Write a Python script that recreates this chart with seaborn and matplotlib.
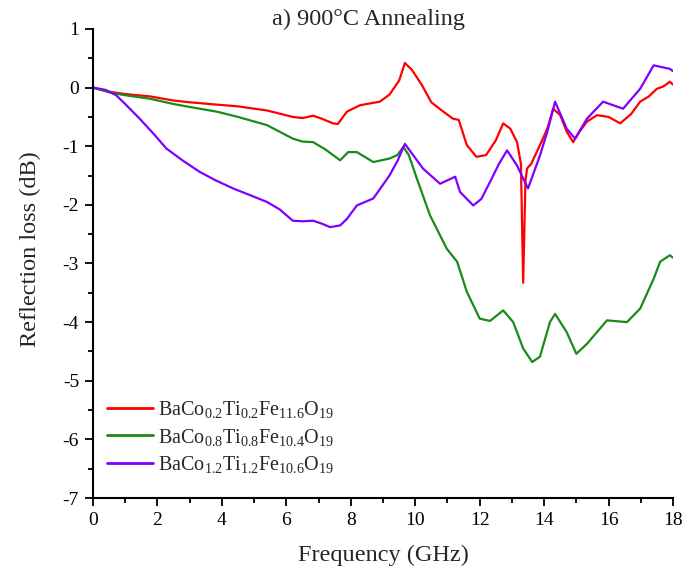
import numpy as np
import pandas as pd
import matplotlib
matplotlib.use("Agg")
import matplotlib.pyplot as plt
import seaborn as sns
from matplotlib.ticker import MultipleLocator

# ---- data ----
labels = [r"BaCo$_{0.2}$Ti$_{0.2}$Fe$_{11.6}$O$_{19}$",
          r"BaCo$_{0.8}$Ti$_{0.8}$Fe$_{10.4}$O$_{19}$",
          r"BaCo$_{1.2}$Ti$_{1.2}$Fe$_{10.6}$O$_{19}$"]
colors = ["#ff0000", "#1a8a1a", "#8000ff"]

red_x = [0, 0.5, 1.0, 1.77, 2.5, 3.0, 3.84, 4.5, 5.4, 6.2, 6.5, 6.83, 7.1, 7.45, 7.6,
         7.88, 8.29, 8.9, 9.2, 9.5, 9.68, 9.9, 10.2, 10.5, 10.8, 11.17, 11.35, 11.6, 11.9,
         12.2, 12.5, 12.73, 12.95, 13.16, 13.28, 13.35, 13.42, 13.47, 13.6, 13.87, 14.1,
         14.28, 14.5, 14.7, 14.9, 15.1, 15.33, 15.64, 16.0, 16.36, 16.7, 16.98, 17.25, 17.5,
         17.7, 17.9, 18.0]
red_y = [0, -0.07, -0.11, -0.15, -0.22, -0.25, -0.29, -0.32, -0.39, -0.5, -0.52, -0.48,
         -0.53, -0.61, -0.62, -0.41, -0.3, -0.24, -0.12, 0.12, 0.42, 0.3, 0.05, -0.25,
         -0.38, -0.53, -0.55, -0.98, -1.18, -1.15, -0.9, -0.61, -0.7, -0.93, -1.3, -3.33,
         -1.6, -1.38, -1.3, -0.98, -0.7, -0.36, -0.47, -0.75, -0.93, -0.75, -0.58, -0.47,
         -0.5, -0.61, -0.45, -0.24, -0.15, -0.02, 0.02, 0.1, 0.05]

green_x = [0, 0.5, 1.0, 1.77, 2.5, 3.0, 3.84, 4.5, 5.4, 6.2, 6.5, 6.83, 7.2, 7.67, 7.92,
           8.19, 8.7, 9.2, 9.45, 9.63, 9.8, 10.05, 10.46, 10.98, 11.3, 11.6, 12.0, 12.32,
           12.73, 13.04, 13.35, 13.63, 13.87, 14.18, 14.34, 14.7, 15.0, 15.33, 15.95, 16.57,
           16.98, 17.4, 17.6, 17.9, 18.0]
green_y = [0, -0.08, -0.13, -0.19, -0.28, -0.33, -0.41, -0.5, -0.64, -0.87, -0.92, -0.93,
           -1.05, -1.24, -1.1, -1.1, -1.27, -1.21, -1.15, -1.01, -1.15, -1.55, -2.18, -2.75,
           -2.97, -3.48, -3.94, -3.98, -3.8, -4.0, -4.45, -4.68, -4.59, -4.0, -3.86, -4.17,
           -4.54, -4.37, -3.97, -4.0, -3.77, -3.26, -2.97, -2.86, -2.9]

purple_x = [0, 0.4, 0.72, 1.0, 1.45, 1.9, 2.28, 2.8, 3.32, 3.8, 4.35, 4.9, 5.4, 5.8, 6.2,
            6.5, 6.83, 7.1, 7.36, 7.67, 7.88, 8.19, 8.7, 9.2, 9.45, 9.68, 10.0, 10.24,
            10.77, 11.24, 11.39, 11.8, 12.05, 12.32, 12.6, 12.85, 13.16, 13.5, 13.87, 14.1,
            14.34, 14.7, 14.96, 15.33, 15.83, 16.45, 16.98, 17.4, 17.65, 17.9, 18.0]
purple_y = [0, -0.04, -0.13, -0.28, -0.53, -0.8, -1.04, -1.25, -1.44, -1.58, -1.72, -1.84,
            -1.95, -2.08, -2.27, -2.28, -2.27, -2.32, -2.38, -2.35, -2.24, -2.01, -1.89,
            -1.5, -1.25, -0.96, -1.2, -1.38, -1.64, -1.52, -1.78, -2.01, -1.9, -1.61, -1.3,
            -1.07, -1.33, -1.72, -1.16, -0.75, -0.24, -0.7, -0.87, -0.53, -0.24, -0.36,
            -0.02, 0.38, 0.35, 0.32, 0.28]

df = pd.concat([
    pd.DataFrame({"Frequency": red_x, "RL": red_y, "Sample": labels[0]}),
    pd.DataFrame({"Frequency": green_x, "RL": green_y, "Sample": labels[1]}),
    pd.DataFrame({"Frequency": purple_x, "RL": purple_y, "Sample": labels[2]}),
], ignore_index=True)

# ---- style ----
sns.set_style("ticks")
plt.rcParams["font.family"] = ["Liberation Serif", "DejaVu Serif"]
plt.rcParams["mathtext.fontset"] = "custom"
plt.rcParams["mathtext.rm"] = "Liberation Serif"
plt.rcParams["mathtext.it"] = "Liberation Serif"
plt.rcParams["mathtext.default"] = "rm"
plt.rcParams["axes.unicode_minus"] = False

fig = plt.figure(figsize=(6.97, 5.75), dpi=100)
ax = fig.add_axes([0.1334, 0.1339, 0.9656 - 0.1334, 0.9496 - 0.1339])

sns.lineplot(data=df, x="Frequency", y="RL", hue="Sample", palette=colors,
             estimator=None, sort=True, linewidth=1.6, ax=ax)

ax.set_xlim(0, 18)
ax.set_ylim(-7, 1)
ax.xaxis.set_major_locator(MultipleLocator(2))
ax.xaxis.set_minor_locator(MultipleLocator(1))
ax.yaxis.set_major_locator(MultipleLocator(1))
ax.yaxis.set_minor_locator(MultipleLocator(0.5))
ax.tick_params(which="major", direction="out", length=6, width=1.3, labelsize=14,
               colors="black", pad=4)
ax.tick_params(which="minor", direction="out", length=3.5, width=1.3, colors="black")
for s in ["top", "right"]:
    ax.spines[s].set_visible(False)
for s in ["left", "bottom"]:
    ax.spines[s].set_linewidth(1.5)
    ax.spines[s].set_color("black")

ax.set_xlabel("Frequency (GHz)", fontsize=17.5)
ax.set_ylabel("Reflection loss (dB)", fontsize=17.5)
ax.xaxis.set_label_coords(0.5, -0.1)
ax.yaxis.set_label_coords(-0.09, 0.53)

fig.text(369 / 697, 1 - 19 / 575, "a) 900°C Annealing", ha="center", va="center",
         fontsize=17.5)

leg = ax.legend(loc="center left", bbox_to_anchor=(0.024, 0.130), frameon=False,
                borderpad=0, borderaxespad=0,
                fontsize=14.5, handlelength=2.3, handletextpad=0.25, labelspacing=0.3)
for line in leg.get_lines():
    line.set_linewidth(2)

fig.savefig("out.png", dpi=100)
